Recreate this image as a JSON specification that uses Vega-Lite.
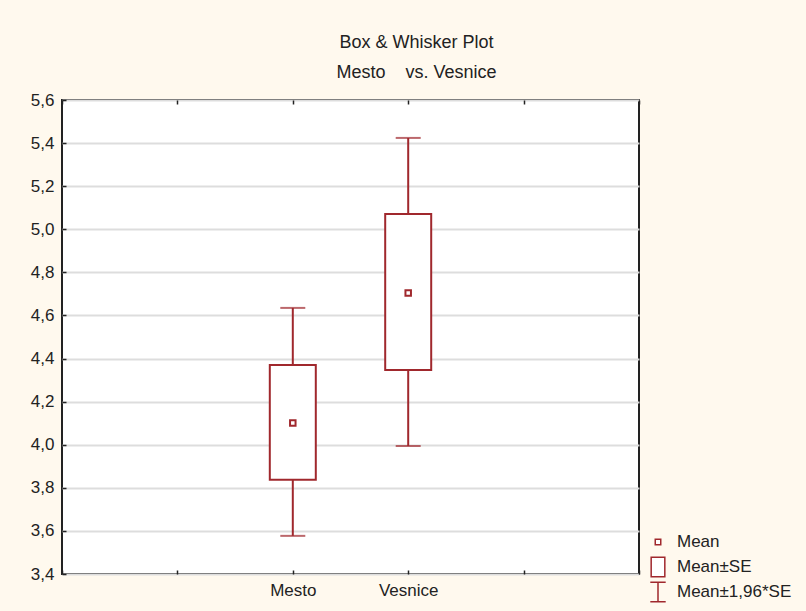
{
  "$schema": "https://vega.github.io/schema/vega-lite/v6.json",
  "autosize": {"type": "none"},
  "padding": {"left": 62, "top": 100, "right": 167, "bottom": 37},
  "width": 577,
  "height": 474,
  "background": "#FFF9EE",
  "title": {
    "text": ["Box & Whisker Plot", "Mesto\u00a0\u00a0\u00a0\u00a0vs. Vesnice"],
    "font": "Liberation Sans",
    "fontSize": 18,
    "fontWeight": "normal",
    "color": "#222222",
    "lineHeight": 30,
    "anchor": "middle",
    "dx": 66,
    "offset": 9
  },
  "data": {
    "values": [
      {"group": "Mesto", "mean": 4.101, "se_lo": 3.837, "se_hi": 4.370, "ci_lo": 3.577, "ci_hi": 4.635},
      {"group": "Vesnice", "mean": 4.704, "se_lo": 4.347, "se_hi": 5.071, "ci_lo": 3.994, "ci_hi": 5.424}
    ]
  },
  "config": {
    "view": {"fill": "white", "stroke": "#222222", "strokeWidth": 2},
    "axis": {
      "labelFont": "Liberation Sans",
      "labelFontSize": 17,
      "labelColor": "#222222",
      "domain": false,
      "tickColor": "#222222",
      "tickWidth": 1.5,
      "title": null
    },
    "axisY": {"gridColor": "#DDDDDD", "gridWidth": 2},
    "legend": {
      "labelFont": "Liberation Sans",
      "labelFontSize": 17,
      "labelColor": "#222222"
    }
  },
  "resolve": {"axis": {"x": "independent"}},
  "layer": [
    {
      "mark": {"type": "rule", "color": "#A0282D", "strokeWidth": 2},
      "encoding": {
        "x": {
          "field": "group", "type": "nominal",
          "scale": {"type": "point", "domain": ["a", "b", "Mesto", "Vesnice", "c", "d"], "padding": 0},
          "axis": {
            "orient": "bottom", "grid": false, "tickSize": -4, "labelPadding": 12,
            "labelAngle": 0,
            "labelExpr": "(datum.value == 'Mesto' || datum.value == 'Vesnice') ? datum.value : ''"
          }
        },
        "y": {
          "field": "ci_lo", "type": "quantitative",
          "scale": {"domain": [3.4, 5.6], "nice": false, "zero": false},
          "axis": {
            "values": [3.4, 3.6, 3.8, 4.0, 4.2, 4.4, 4.6, 4.8, 5.0, 5.2, 5.4, 5.6],
            "tickSize": -4, "labelPadding": 12,
            "labelExpr": "replace(format(datum.value, '.1f'), '.', ',')",
            "title": null
          }
        },
        "y2": {"field": "ci_hi"}
      }
    },
    {
      "mark": {"type": "bar", "fill": "white", "stroke": "#A0282D", "strokeWidth": 2, "width": 46},
      "encoding": {
        "x": {
          "field": "group", "type": "nominal",
          "axis": {"orient": "top", "labels": false, "grid": false, "tickSize": -4}
        },
        "y": {"field": "se_lo", "type": "quantitative", "title": null},
        "y2": {"field": "se_hi"}
      }
    },
    {
      "mark": {"type": "tick", "color": "#A0282D", "thickness": 2, "size": 25},
      "encoding": {
        "x": {"field": "group", "type": "nominal", "axis": null},
        "y": {"field": "ci_lo", "type": "quantitative", "title": null}
      }
    },
    {
      "mark": {"type": "tick", "color": "#A0282D", "thickness": 2, "size": 25},
      "encoding": {
        "x": {"field": "group", "type": "nominal", "axis": null},
        "y": {"field": "ci_hi", "type": "quantitative", "title": null}
      }
    },
    {
      "mark": {"type": "point", "filled": false, "fill": "white", "stroke": "#A0282D", "strokeWidth": 2, "size": 484, "opacity": 1},
      "encoding": {
        "x": {"field": "group", "type": "nominal", "axis": null},
        "y": {"field": "mean", "type": "quantitative", "title": null},
        "shape": {
          "datum": "Mean",
          "type": "nominal",
          "scale": {
            "domain": ["Mean", "Mean±SE", "Mean±1,96*SE"],
            "range": [
              "M-0.25,-0.25H0.25V0.25H-0.25Z",
              "M-0.62,-0.88H0.62V0.88H-0.62Z",
              "M-0.7,-0.88H0.7M0,-0.88V0.88M-0.7,0.88H0.7"
            ]
          },
          "legend": {
            "title": null,
            "orient": "none",
            "legendX": 584,
            "legendY": 430,
            "symbolSize": 484,
            "labelOffset": 7,
            "rowPadding": -2,
            "gridAlign": "all",
            "encode": {
              "symbols": {
                "update": {
                  "stroke": {"value": "#A0282D"},
                  "strokeWidth": {"value": 2},
                  "fill": {"value": "white"},
                  "opacity": {"value": 1}
                }
              }
            }
          }
        }
      }
    }
  ]
}
